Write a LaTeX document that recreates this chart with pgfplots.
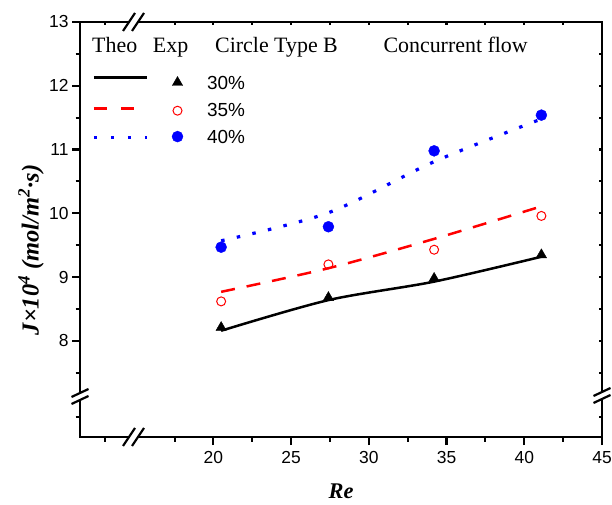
\documentclass[border=0pt]{standalone}
\usepackage{fontspec}
\setmainfont{Liberation Serif}
\setsansfont{Liberation Sans}
\usepackage{pgfplots}
\pgfplotsset{compat=1.18}

\begin{document}
\begin{tikzpicture}
\pgfplotsset{
 commonax/.style={
  scale only axis, width=522bp, height=415bp, at={(0,0)}, anchor=south west,
  xmin=11.42, xmax=45, ymin=6.494, ymax=13,
  axis line style={line width=2.2bp, black},
  xtick={20,25,30,35,40,45}, ytick={8,9,10,11,12,13},
  minor xtick={13,17.5,22.5,27.5,32.5,37.5,42.5},
  minor ytick={6.8,7.5,8.5,9.5,10.5,11.5,12.5},
  major tick style={line width=2.2bp, black},
  minor tick style={line width=2bp, black},
  clip=false,
 }
}
\begin{axis}[commonax, xtick pos=left, ytick pos=left, tick align=outside,
 major tick length=8bp, minor tick length=4.5bp,
 /pgf/number format/assume math mode=true,
 ticklabel style={font=\fontsize{17.5}{17.5}\selectfont\sffamily},
 xticklabel style={yshift=-3bp},
 legend style={at={(0.02299,0.87157)}, anchor=north west, draw=none, fill=none,
   inner sep=0pt, row sep=13bp, column sep=0pt,
   font=\fontsize{19}{19}\selectfont\sffamily,
   nodes={inner sep=0pt, text height=14bp, text depth=0bp},
   cells={anchor=base west}},
]
\addlegendimage{legend image code/.code={
  \draw[black, line width=2.2bp] (0bp,12bp) -- (53bp,12bp);
  \draw[black, fill=black, line width=0.4bp] plot[only marks, mark=triangle*, mark size=6bp] coordinates {(83.7bp,7bp)};
  \path (0bp,0bp) (113bp,0bp);
}}
\addlegendentry{30\%}
\addlegendimage{legend image code/.code={
  \draw[red, line width=2.5bp, dash pattern=on 13bp off 14bp] (0bp,8.3bp) -- (53bp,8.3bp);
  \draw[red, line width=1bp] plot[only marks, mark=o, mark size=4.5bp] coordinates {(83.7bp,6bp)};
  \path (0bp,0bp) (113bp,0bp);
}}
\addlegendentry{35\%}
\addlegendimage{legend image code/.code={
  \draw[blue, line width=3.2bp, dash pattern=on 3.5bp off 13.5bp] (0bp,6.5bp) -- (53bp,6.5bp);
  \draw[blue, fill=blue, line width=0.4bp] plot[only marks, mark=*, mark size=5.5bp] coordinates {(83.7bp,7.3bp)};
  \path (0bp,0bp) (113bp,0bp);
}}
\addlegendentry{40\%}

% Theoretical curves
\addplot[black, line width=2.5bp, smooth, forget plot] coordinates {(20.5,8.16)(27.4,8.64)(34.2,8.93)(41.1,9.32)};
\addplot[red, line width=2.5bp, dash pattern=on 14bp off 12bp, smooth, forget plot] coordinates {(20.5,8.77)(27.4,9.14)(34.2,9.60)(41.1,10.11)};
\addplot[blue, line width=3.2bp, dash pattern=on 3.5bp off 12.5bp, smooth, forget plot] coordinates {(20.5,9.57)(27.4,10.01)(34.2,10.81)(41.1,11.48)};
% Experimental points
\addplot[only marks, mark=triangle*, mark size=6bp, black, forget plot] coordinates {(20.5,8.21)(27.4,8.68)(34.2,8.98)(41.1,9.35)};
\addplot[only marks, mark=o, mark size=4.5bp, red, mark options={line width=1bp}, forget plot] coordinates {(20.5,8.62)(27.4,9.20)(34.2,9.43)(41.1,9.96)};
\addplot[only marks, mark=*, mark size=5.5bp, blue, forget plot] coordinates {(20.5,9.47)(27.4,9.79)(34.2,10.98)(41.1,11.54)};
\end{axis}

\begin{axis}[commonax, xtick pos=right, ytick pos=right, tick align=inside,
 major tick length=3.5bp, minor tick length=3.5bp,
 xticklabels={}, yticklabels={}]
\end{axis}

\begin{scope}[x=1bp, y={(0bp,-1bp)}, shift={(-80bp,437bp)}]
 % axis breaks
 \fill[white] (123,446) -- (135,428) -- (144,428) -- (132,446) -- cycle;
 \draw[line width=2.2bp] (123,446) -- (135,428) (132,446) -- (144,428);
 \fill[white] (123,31) -- (135,13) -- (144,13) -- (132,31) -- cycle;
 \draw[line width=2.2bp] (123,31) -- (135,13) (132,31) -- (144,13);
 \fill[white] (71.5,397) -- (88.5,389) -- (88.5,396) -- (71.5,404) -- cycle;
 \draw[line width=2.2bp] (71.5,397) -- (88.5,389) (71.5,404) -- (88.5,396);
 \fill[white] (593.5,396) -- (610.5,388) -- (610.5,395) -- (593.5,403) -- cycle;
 \draw[line width=2.2bp] (593.5,396) -- (610.5,388) (593.5,403) -- (610.5,395);
 % header texts
 \begin{scope}[every node/.style={inner sep=0pt, anchor=base west, font=\fontsize{22}{22}\selectfont}]
  \node at (92,52.5) {Theo};
  \node at (152.7,52.5) {Exp};
  \node at (215,52.5) {Circle Type B};
  \node at (383.3,52.5) {Concurrent flow};
 \end{scope}
 % axis labels
 \node[inner sep=0pt, anchor=base, font=\fontsize{22.5}{22.5}\selectfont\bfseries\itshape] at (341,499) {Re};
 \node[inner sep=0pt, rotate=90, font=\fontsize{24.5}{24.5}\selectfont\bfseries\itshape] at (31,250) {J×10\textsuperscript{4} (mol/m\textsuperscript{2}·s)};
 \pgfresetboundingbox
 \useasboundingbox (0,0) rectangle (612,505);
\end{scope}
\end{tikzpicture}
\end{document}
